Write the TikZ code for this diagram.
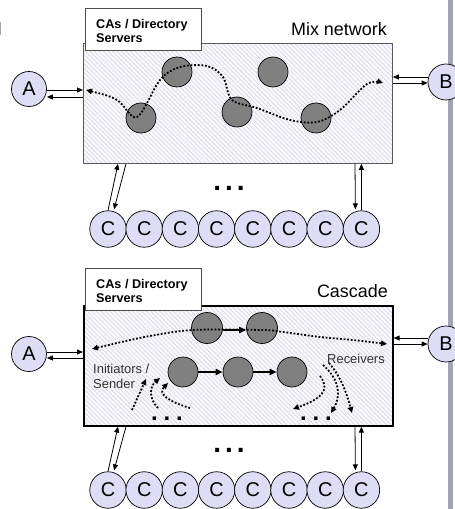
\documentclass[tikz,border=0pt]{standalone}
\usepackage{fontspec}
\setmainfont{Liberation Sans}
\usetikzlibrary{arrows.meta,patterns.meta,calc}
\definecolor{lav}{RGB}{221,221,245}
\definecolor{mixgray}{RGB}{128,128,128}
\definecolor{hatchbg}{RGB}{248,248,252}
\definecolor{hatch}{RGB}{208,208,226}
\definecolor{barcol}{RGB}{158,166,180}
\tikzset{
  every node/.style={inner sep=0pt},
  net/.style={preaction={fill=hatchbg}, pattern={Lines[angle=-45,distance=3.2bp,line width=0.5bp]}, pattern color=hatch, minimum width=309bp, minimum height=120bp, anchor=north west},
  party/.style={circle, draw=black, fill=lav, line width=0.7bp, minimum size=35bp, font=\fontsize{20}{22}\selectfont},
  cnode/.style={party, minimum size=36.5bp},
  mixn/.style={circle, draw=black, fill=mixgray, line width=0.7bp, minimum size=30bp},
  cabox/.style={draw=black!70, fill=white, line width=0.8bp, minimum width=116bp, minimum height=42bp, anchor=north west},
  catext/.style={anchor=north west, align=left, font=\fontsize{12.7}{14.5}\selectfont\bfseries},
  title/.style={anchor=base east, font=\fontsize{18}{20}\selectfont},
  small/.style={font=\fontsize{13}{15}\selectfont, text=black!80},
  link/.style={line width=0.8bp, -{Triangle[length=6bp,width=5bp]}},
  flow/.style={line width=1.8bp, dash pattern=on 1.8bp off 1.8bp, {Triangle[length=6bp,width=5.5bp]}-{Triangle[length=6bp,width=5.5bp]}},
  flowone/.style={line width=1.8bp, dash pattern=on 1.8bp off 1.8bp, -{Triangle[length=6bp,width=5.5bp]}},
  hop/.style={line width=1.8bp, -{Triangle[length=7bp,width=6bp]}},
  bigdots/.style={font=\fontsize{28}{28}\selectfont\bfseries},
  smalldots/.style={font=\fontsize{24}{24}\selectfont\bfseries},
}
\begin{document}
\begin{tikzpicture}[x=1bp,y=-1bp]
\useasboundingbox (0,0) rectangle (455,509);
% side bar and mark
\fill[barcol] (448,0) rectangle (453,509);
\fill[black!35] (0,22) rectangle (1.3,35);

% ================= Mix network =================
\node[net, draw=black!65, line width=0.8bp] (mix) at (83,43) {};
\node[cabox] (ca1) at (85,8) {};
\node[catext] (ca1t) at (96,19) {CAs / Directory\\Servers};
\node[title] (lmix) at (387,36) {Mix network};

\node[mixn] (m1) at (141,118) {};
\node[mixn] (m2) at (177,72) {};
\node[mixn] (m3) at (273,72) {};
\node[mixn] (m4) at (237,112) {};
\node[mixn] (m5) at (316,118) {};

\draw[flow] plot[smooth, tension=0.55] coordinates {(86,90) (117,100) (137,117) (160,80) (180,67) (207,66) (223,77) (232,100) (257,108) (290,120) (317,122) (340,110) (367,84) (383,83)};

\node[party] (A1) at (29,89) {A};
\node[party, minimum size=36bp] (B1) at (446,82) {B};
\draw[link] (A1.east |- 0,90) -- (mix.west |- 0,90);
\draw[link] (mix.west |- 0,97) -- (A1.east |- 0,97);
\draw[link] (B1.west |- 0,77) -- (mix.east |- 0,77);
\draw[link] (mix.east |- 0,83) -- (B1.west |- 0,83);

\foreach \i in {1,...,8} {
  \node[cnode] (c\i) at ({108+36.2*(\i-1)},229) {C};
}
\draw[link] (c1.north) -- (118,0 |- mix.south);
\draw[link] (126,0 |- mix.south) -- ($(c1.north)+(6,-1)$);
\draw[link] (355,0 |- mix.south) -- ($(c8.north)+(-6,-1)$);
\draw[link] (c8.north) -- (c8.north |- mix.south);
\node[bigdots] (d1) at (229,188) {.\hspace{3.9bp}.\hspace{3.9bp}.};

% ================= Cascade =================
\node[net, draw=black, line width=1.6bp] (cas) at (83,305) {};
\node[cabox] (ca2) at (85,268) {};
\node[catext] (ca2t) at (96,279) {CAs / Directory\\Servers};
\node[title] (lcas) at (388,297) {Cascade};

\node[mixn, minimum size=31bp] (k1) at (207,328) {};
\node[mixn, minimum size=31bp] (k2) at (262,328) {};
\node[mixn] (k3) at (183,372) {};
\node[mixn] (k4) at (238,372) {};
\node[mixn] (k5) at (292,372) {};
\draw[hop] (k1.east |- 0,330) -- (k2.west |- 0,330);
\draw[hop] (k3.east) -- (k4.west);
\draw[hop] (k4.east) -- (k5.west);

\draw[flow] plot[smooth, tension=0.55] coordinates {(92,349) (117,343) (150,336) (193,330) (262,330) (283,332) (320,337) (353,340) (387,344)};

\node[party] (A2) at (29,354) {A};
\node[party, minimum size=36bp] (B2) at (446,344) {B};
\draw[link] (A2.east |- 0,352) -- (cas.west |- 0,352);
\draw[link] (cas.west |- 0,358) -- (A2.east |- 0,358);
\draw[link] (B2.west |- 0,338) -- (cas.east |- 0,338);
\draw[link] (cas.east |- 0,344) -- (B2.west |- 0,344);

\node[small, anchor=north west, align=left] (init) at (93,363.5) {Initiators /\\Sender};
\node[small, anchor=base west] (recv) at (327,363) {Receivers};

\draw[flowone] (132,410) -- (146,379);
\draw[flowone] (158,408) .. controls (148,398) and (150,386) .. (160,378);
\draw[flowone] (190,408) .. controls (170,402) and (157,394) .. (168,383);

\draw[flowone] (323,365) .. controls (340,380) and (341,396) .. (331,413);
\draw[flowone] (329,363) .. controls (342,378) and (347,395) .. (352,413);
\draw[flowone] (320,376) .. controls (331,390) and (321,399) .. (293,409);

\node[smalldots] (d2) at (167,419) {.\hspace{5.8bp}.\hspace{5.8bp}.};
\node[smalldots] (d3) at (316,419) {.\hspace{5.8bp}.\hspace{5.8bp}.};

\foreach \i in {1,...,8} {
  \node[cnode] (cc\i) at ({108+36.2*(\i-1)},490) {C};
}
\draw[link] (cc1.north) -- (118,0 |- cas.south);
\draw[link] (126,0 |- cas.south) -- ($(cc1.north)+(6,-1)$);
\draw[link] (355,0 |- cas.south) -- ($(cc8.north)+(-6,-1)$);
\draw[link] (cc8.north) -- (cc8.north |- cas.south);
\node[bigdots] (d4) at (229,450) {.\hspace{3.9bp}.\hspace{3.9bp}.};
\end{tikzpicture}
\end{document}
